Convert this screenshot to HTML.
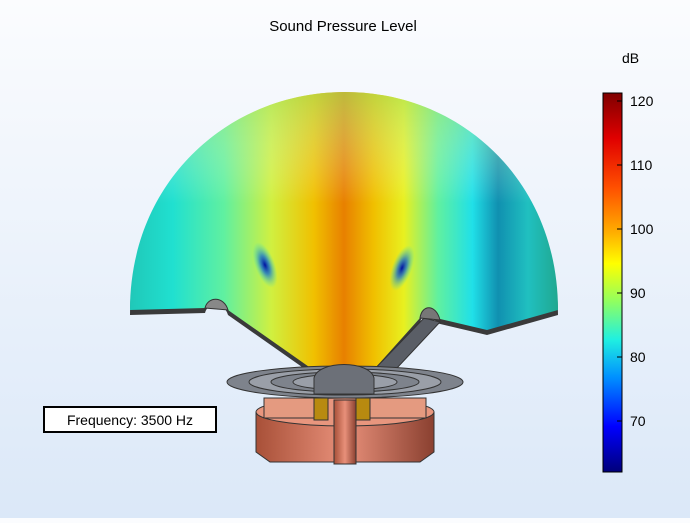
<!DOCTYPE html>
<html><head><style>
body{margin:0;width:690px;height:518px;overflow:hidden;background:linear-gradient(#fbfcfe,#dbe8f8);font-family:"Liberation Sans",sans-serif;}
</style></head><body>
<svg width="690" height="518" viewBox="0 0 690 518" xmlns="http://www.w3.org/2000/svg">
<defs>
<linearGradient id="jet" x1="0" y1="0" x2="0" y2="1">
<stop offset="0" stop-color="#7f0000"/><stop offset="0.12" stop-color="#e00000"/><stop offset="0.25" stop-color="#ff5000"/><stop offset="0.37" stop-color="#ffb000"/><stop offset="0.45" stop-color="#ffff00"/><stop offset="0.55" stop-color="#90ff60"/><stop offset="0.65" stop-color="#20f0e0"/><stop offset="0.75" stop-color="#0090ff"/><stop offset="0.88" stop-color="#0000ff"/><stop offset="1" stop-color="#00007a"/>
</linearGradient>
<linearGradient id="dome" x1="130" y1="0" x2="558" y2="0" gradientUnits="userSpaceOnUse">
<stop offset="0" stop-color="#20c8b8"/><stop offset="0.1" stop-color="#20e0d0"/><stop offset="0.22" stop-color="#60f0a0"/><stop offset="0.33" stop-color="#d0f040"/><stop offset="0.43" stop-color="#f0c000"/><stop offset="0.5" stop-color="#e88000"/><stop offset="0.57" stop-color="#f0c000"/><stop offset="0.64" stop-color="#e8f020"/><stop offset="0.72" stop-color="#60f0a0"/><stop offset="0.8" stop-color="#20e0e8"/><stop offset="0.86" stop-color="#1090b0"/><stop offset="0.93" stop-color="#20c0c0"/><stop offset="1" stop-color="#20a890"/>
</linearGradient>
<linearGradient id="vert" x1="0" y1="92" x2="0" y2="370" gradientUnits="userSpaceOnUse">
<stop offset="0" stop-color="#a0e060" stop-opacity="0.6"/><stop offset="0.4" stop-color="#fff" stop-opacity="0"/>
</linearGradient>
<radialGradient id="spot"><stop offset="0" stop-color="#0010a0"/><stop offset="0.4" stop-color="#0060e0" stop-opacity="0.7"/><stop offset="1" stop-color="#20e0e0" stop-opacity="0"/></radialGradient>
<linearGradient id="cu" x1="0" x2="1"><stop offset="0" stop-color="#a85038"/><stop offset="0.5" stop-color="#e8907a"/><stop offset="1" stop-color="#8a4030"/></linearGradient>
<path id="dp" d="M130 310 C130 180 230 92 345 92 C460 92 558 180 558 310 L487 330 L436 318 C434 306 422 306 420 318 L368 376 L322 376 L228 310 C224 296 208 296 205 308 Z"/>
</defs>
<text x="343" y="31" font-size="15" text-anchor="middle" fill="#000">Sound Pressure Level</text>
<use href="#dp" fill="#3a3a3a" transform="translate(0,5)"/>
<use href="#dp" fill="url(#dome)"/>
<use href="#dp" fill="url(#vert)"/>
<ellipse cx="265" cy="265" rx="10" ry="24" fill="url(#spot)" transform="rotate(-20 265 265)"/>
<ellipse cx="402" cy="268" rx="10" ry="24" fill="url(#spot)" transform="rotate(20 402 268)"/>
<path d="M205 308 C208 296 224 296 228 310 Z" fill="#888" stroke="#333"/>
<!-- right cone wall -->
<path d="M366 378 L424 318 L440 322 L382 384Z" fill="#5a5e66" stroke="#333"/>
<path d="M420 318 C422 304 436 304 440 320Z" fill="#777" stroke="#333"/>
<!-- suspension rings -->
<g fill="#7e838c" stroke="#333" stroke-width="1">
<ellipse cx="345" cy="382" rx="118" ry="16"/>
<ellipse cx="345" cy="382" rx="96" ry="13" fill="#9a9fa8"/>
<ellipse cx="345" cy="382" rx="74" ry="10"/>
<ellipse cx="345" cy="382" rx="52" ry="8" fill="#9a9fa8"/>
</g>
<!-- magnet / copper -->
<path d="M256 412 L256 452 L270 462 L420 462 L434 452 L434 412 Z" fill="url(#cu)" stroke="#333"/>
<ellipse cx="345" cy="412" rx="89" ry="14" fill="#e8967e" stroke="#333"/>
<rect x="264" y="398" width="56" height="20" fill="#e49a80" stroke="#333"/>
<rect x="370" y="398" width="56" height="20" fill="#e49a80" stroke="#333"/>
<rect x="314" y="398" width="14" height="22" fill="#b88a10" stroke="#333"/>
<rect x="356" y="398" width="14" height="22" fill="#b88a10" stroke="#333"/>
<rect x="334" y="400" width="22" height="64" fill="url(#cu)" stroke="#333"/>
<!-- dust cap -->
<path d="M314 394 L314 378 C318 360 370 360 374 378 L374 394 Z" fill="#6c7078" stroke="#333"/>
<!-- colorbar -->
<rect x="603" y="93" width="19" height="379" fill="url(#jet)" stroke="#000" stroke-width="1"/>
<g stroke="#000"><line x1="617" y1="101" x2="622" y2="101"/><line x1="617" y1="165" x2="622" y2="165"/><line x1="617" y1="229" x2="622" y2="229"/><line x1="617" y1="293" x2="622" y2="293"/><line x1="617" y1="357" x2="622" y2="357"/><line x1="617" y1="421" x2="622" y2="421"/></g>
<g font-size="14" fill="#000">
<text x="622" y="63">dB</text>
<text x="630" y="106">120</text><text x="630" y="170">110</text><text x="630" y="234">100</text><text x="630" y="298">90</text><text x="630" y="362">80</text><text x="630" y="426">70</text>
</g>
<rect x="44" y="407" width="172" height="25" fill="#fff" stroke="#000" stroke-width="2"/>
<text x="130" y="425" font-size="14" text-anchor="middle">Frequency: 3500 Hz</text>
</svg>
</body></html>
